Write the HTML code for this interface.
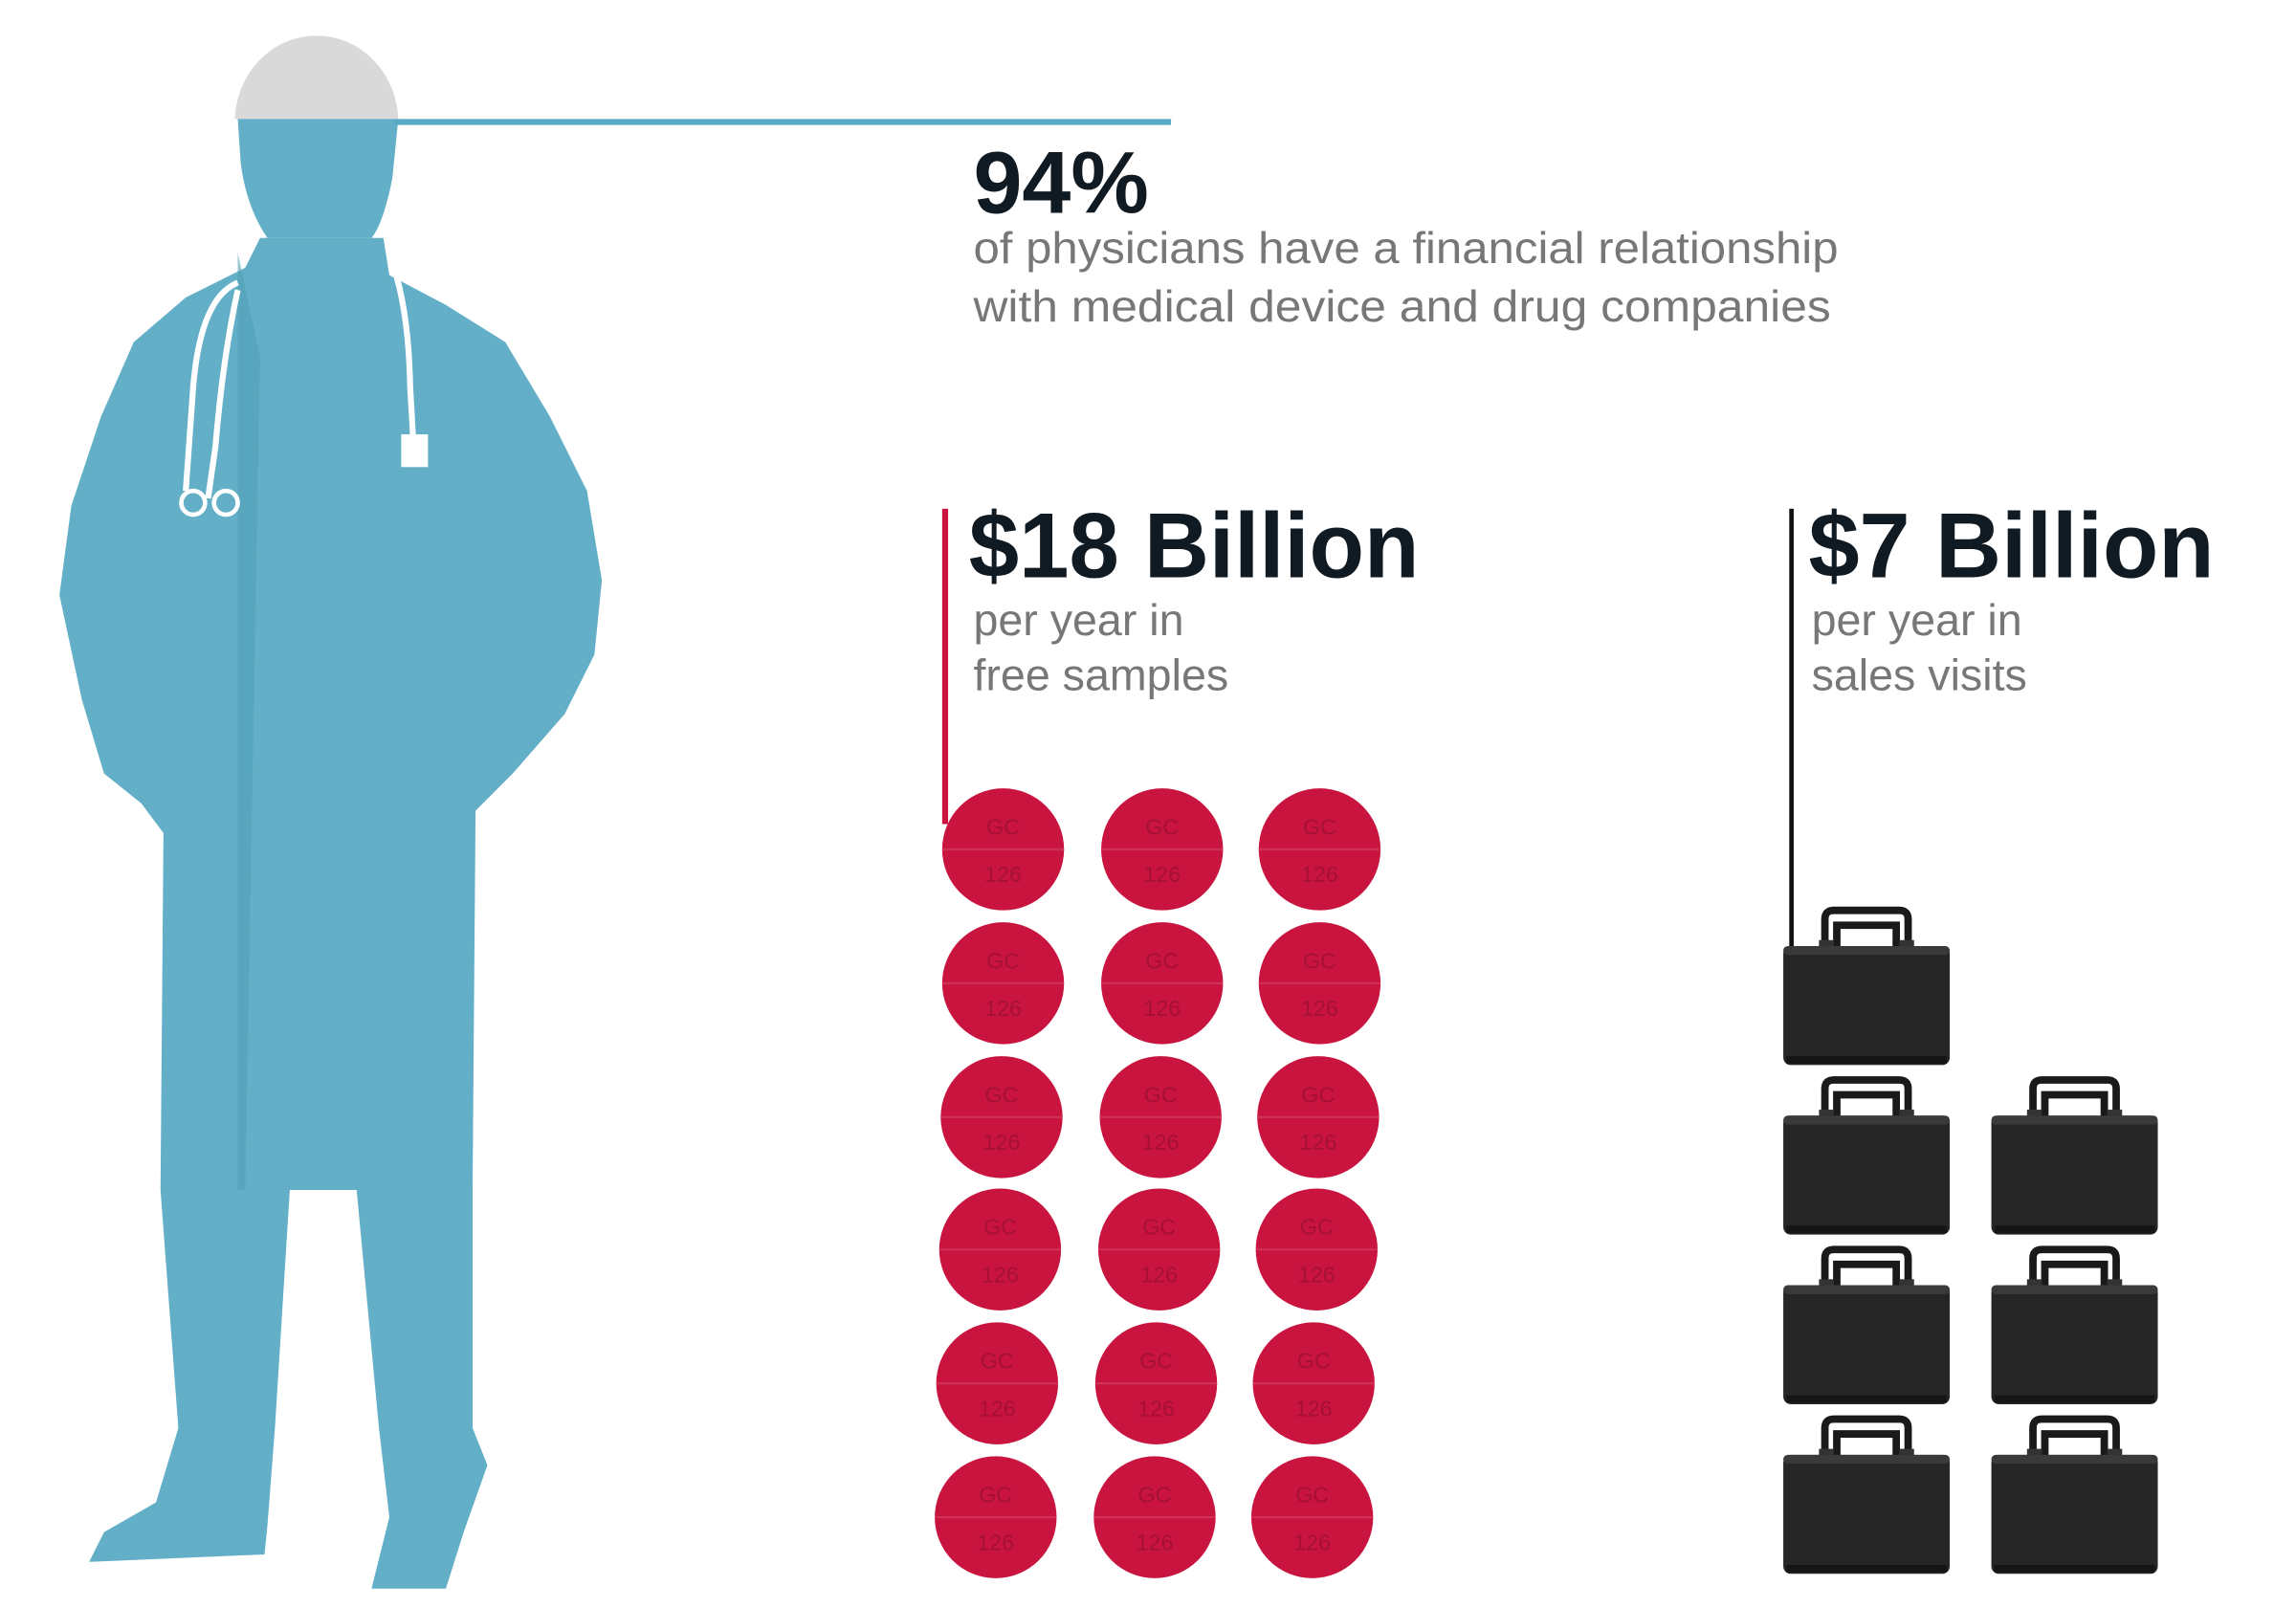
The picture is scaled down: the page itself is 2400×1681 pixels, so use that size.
<!DOCTYPE html>
<html><head><meta charset="utf-8"><style>html,body{margin:0;padding:0;background:#fff}svg{display:block}</style></head>
<body>
<svg width="2400" height="1681" viewBox="0 0 1545 1081" preserveAspectRatio="none" xmlns="http://www.w3.org/2000/svg" font-family="Liberation Sans, sans-serif">
<defs>
<clipPath id="top"><rect x="0" y="0" width="400" height="80"/></clipPath>
<g id="pill">
<circle r="41" fill="#c8143f"/>
<line x1="-41" y1="0" x2="41" y2="0" stroke="#d54465" stroke-width="1.5" opacity="0.6"/>
<text y="-10" font-size="15" text-anchor="middle" fill="#8e0f2c" opacity="0.6">GC</text>
<text y="22" font-size="15" text-anchor="middle" fill="#8e0f2c" opacity="0.6">126</text>
</g>
<g id="case">
<path d="M28,28 V8 Q28,2 34,2 H78 Q84,2 84,8 V28 M36,28 V12 H76 V28" fill="none" stroke="#1a1a1a" stroke-width="5"/>
<rect x="24" y="22" width="10" height="6" fill="#333"/>
<rect x="78" y="22" width="10" height="6" fill="#333"/>
<rect x="0" y="26" width="112" height="80" rx="5" fill="#262626"/>
<rect x="0" y="26" width="112" height="6" rx="3" fill="#3a3a3a"/>
<rect x="2" y="100" width="108" height="5" fill="#151515"/>
</g>
</defs>
<!-- doctor -->
<ellipse cx="213" cy="82" rx="55" ry="58" fill="#d9d9d9" clip-path="url(#top)"/>
<path d="M160,80 H268 L264,120 Q258,150 250,160 L180,160 Q166,140 162,110 Z" fill="#63afc7"/>
<path d="M175,160 L258,160 L262,185 L300,205 L340,230 L370,280 L395,330 L405,390 L400,440 L380,480 L345,520 L320,545 L318,800 L318,960 L328,985 L312,1030 L300,1068 L250,1068 L262,1020 L255,960 L240,800 L195,800 L185,960 L180,1025 L178,1045 L60,1050 L70,1030 L105,1010 L120,960 L108,800 L110,560 L95,540 L70,520 L55,470 L40,400 L48,340 L68,280 L90,230 L125,200 L165,180 Z" fill="#63afc7"/>
<path d="M160,170 L175,240 L165,800 L160,800 Z" fill="#529fb8" opacity="0.6"/>
<path d="M160,190 Q135,200 130,260 L125,330 M160,195 Q150,240 145,300 L140,335 M265,180 Q275,210 276,260 L278,295" fill="none" stroke="#fff" stroke-width="4"/>
<circle cx="130" cy="338" r="8" fill="none" stroke="#fff" stroke-width="3"/>
<circle cx="152" cy="338" r="8" fill="none" stroke="#fff" stroke-width="3"/>
<rect x="270" y="292" width="18" height="22" fill="#fff"/>
<!-- blue line -->
<rect x="265" y="80" width="523" height="4" fill="#5aa9c4"/>
<text x="655" y="143" font-size="59" font-weight="bold" fill="#101a22">94%</text>
<text x="655" y="177" font-size="30" fill="#777" textLength="582" lengthAdjust="spacingAndGlyphs">of physicians have a financial relationship</text>
<text x="655" y="216" font-size="30" fill="#777" textLength="577" lengthAdjust="spacingAndGlyphs">with medical device and drug companies</text>
<!-- $18 -->
<rect x="634" y="342" width="4" height="212" fill="#c8143f"/>
<text x="652" y="388" font-size="62" font-weight="bold" fill="#101a22" textLength="303" lengthAdjust="spacingAndGlyphs">$18 Billion</text>
<text x="655" y="427" font-size="30" fill="#777">per year in</text>
<text x="655" y="464" font-size="30" fill="#777">free samples</text>
<use href="#pill" x="675" y="571"/><use href="#pill" x="782" y="571"/><use href="#pill" x="888" y="571"/>
<use href="#pill" x="675" y="661"/><use href="#pill" x="782" y="661"/><use href="#pill" x="888" y="661"/>
<use href="#pill" x="674" y="751"/><use href="#pill" x="781" y="751"/><use href="#pill" x="887" y="751"/>
<use href="#pill" x="673" y="840"/><use href="#pill" x="780" y="840"/><use href="#pill" x="886" y="840"/>
<use href="#pill" x="671" y="930"/><use href="#pill" x="778" y="930"/><use href="#pill" x="884" y="930"/>
<use href="#pill" x="670" y="1020"/><use href="#pill" x="777" y="1020"/><use href="#pill" x="883" y="1020"/>
<!-- $7 -->
<rect x="1204" y="342" width="3" height="295" fill="#111"/>
<text x="1217" y="388" font-size="62" font-weight="bold" fill="#101a22" textLength="273" lengthAdjust="spacingAndGlyphs">$7 Billion</text>
<text x="1219" y="427" font-size="30" fill="#777">per year in</text>
<text x="1219" y="464" font-size="30" fill="#777">sales visits</text>
<use href="#case" x="1200" y="610"/>
<use href="#case" x="1200" y="724"/><use href="#case" x="1340" y="724"/>
<use href="#case" x="1200" y="838"/><use href="#case" x="1340" y="838"/>
<use href="#case" x="1200" y="952"/><use href="#case" x="1340" y="952"/>
</svg>
</body></html>
